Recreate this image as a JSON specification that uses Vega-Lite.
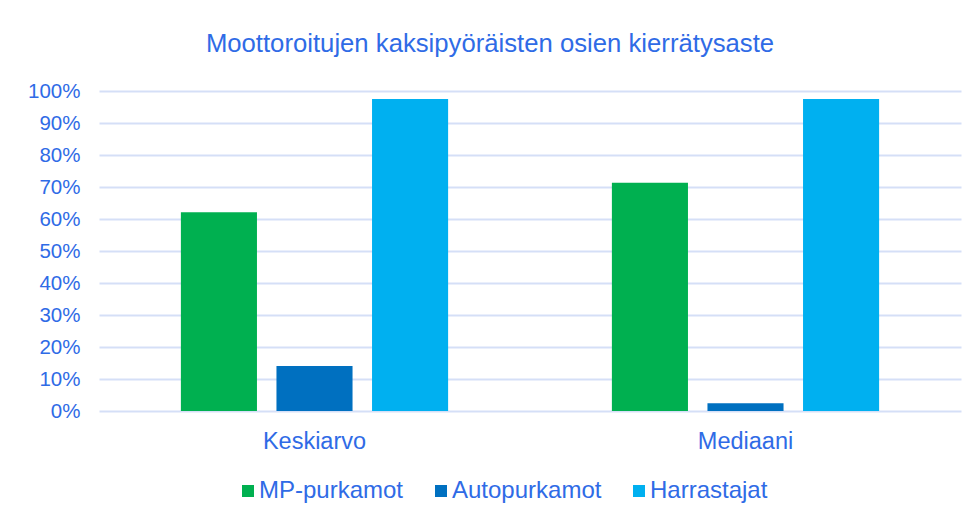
{
  "$schema": "https://vega.github.io/schema/vega-lite/v6.json",
  "width": 862,
  "height": 320,
  "autosize": {"type": "none"},
  "padding": {"left": 99, "top": 91, "right": 17, "bottom": 111},
  "background": "white",
  "title": {
    "text": "Moottoroitujen kaksipyöräisten osien kierrätysaste",
    "anchor": "middle",
    "frame": "group",
    "dx": -40,
    "offset": 23,
    "font": "Liberation Sans",
    "fontSize": 25.7,
    "fontWeight": "normal",
    "color": "#2F6BE6"
  },
  "data": {
    "values": [
      {"ryhma": "Keskiarvo", "sarja": "MP-purkamot", "arvo": 0.621},
      {"ryhma": "Keskiarvo", "sarja": "Autopurkamot", "arvo": 0.141},
      {"ryhma": "Keskiarvo", "sarja": "Harrastajat", "arvo": 0.975},
      {"ryhma": "Mediaani", "sarja": "MP-purkamot", "arvo": 0.713},
      {"ryhma": "Mediaani", "sarja": "Autopurkamot", "arvo": 0.024},
      {"ryhma": "Mediaani", "sarja": "Harrastajat", "arvo": 0.975}
    ]
  },
  "mark": {"type": "bar"},
  "encoding": {
    "x": {
      "field": "ryhma",
      "type": "nominal",
      "sort": ["Keskiarvo", "Mediaani"],
      "scale": {"paddingInner": 0.38, "paddingOuter": 0.19},
      "axis": {
        "title": null,
        "labelAngle": 0,
        "domain": false,
        "ticks": false,
        "labelPadding": 18,
        "labelFont": "Liberation Sans",
        "labelFontSize": 23.5,
        "labelColor": "#2F6BE6"
      }
    },
    "xOffset": {
      "field": "sarja",
      "type": "nominal",
      "sort": ["MP-purkamot", "Autopurkamot", "Harrastajat"],
      "scale": {"paddingInner": 0.204, "paddingOuter": 0}
    },
    "y": {
      "field": "arvo",
      "type": "quantitative",
      "scale": {"domain": [0, 1], "nice": false},
      "axis": {
        "title": null,
        "format": ".0%",
        "values": [0, 0.1, 0.2, 0.3, 0.4, 0.5, 0.6, 0.7, 0.8, 0.9, 1],
        "domain": false,
        "ticks": false,
        "labelPadding": 19,
        "labelFont": "Liberation Sans",
        "labelFontSize": 20.5,
        "labelColor": "#2F6BE6",
        "grid": true,
        "gridColor": "#D5DFF7",
        "gridWidth": 2
      }
    },
    "color": {
      "field": "sarja",
      "type": "nominal",
      "sort": ["MP-purkamot", "Autopurkamot", "Harrastajat"],
      "scale": {
        "domain": ["MP-purkamot", "Autopurkamot", "Harrastajat"],
        "range": ["#00B050", "#0070C0", "#00B0F0"]
      },
      "legend": {
        "title": null,
        "orient": "none",
        "direction": "horizontal",
        "legendX": 137,
        "legendY": 388,
        "symbolType": "square",
        "symbolSize": 144,
        "symbolStrokeWidth": 0,
        "symbolOpacity": 1,
        "labelFont": "Liberation Sans",
        "labelFontSize": 24,
        "labelColor": "#2F6BE6",
        "labelOffset": -1,
        "columnPadding": 25,
        "padding": 0
      }
    }
  },
  "config": {
    "view": {"stroke": null}
  }
}
